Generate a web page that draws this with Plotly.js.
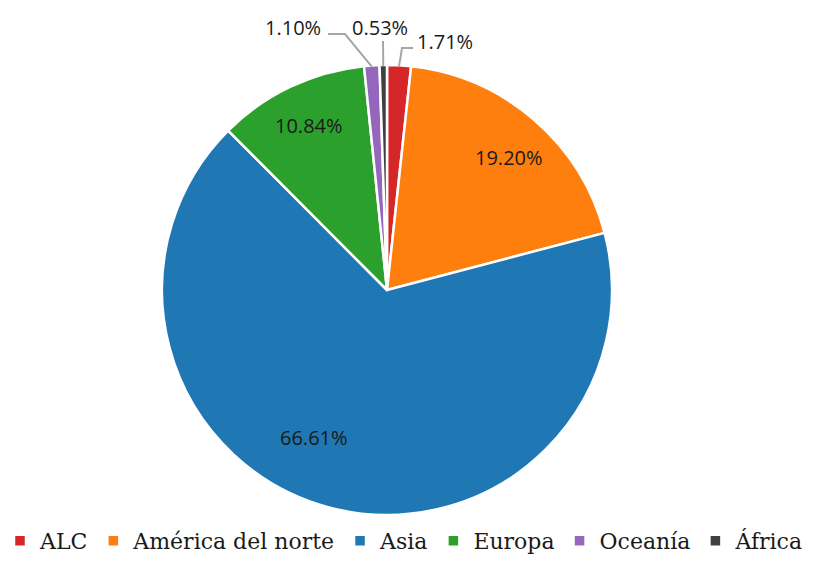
<!DOCTYPE html>
<html><head><meta charset="utf-8">
<script src="https://cdn.plot.ly/plotly-3.0.1.min.js"></script>
<style>html,body{margin:0;padding:0;background:#fff}</style></head>
<body>
<div id="chart" style="width:815px;height:562px"></div>
<script>
// ---- data ----
const regions = ['ALC', 'América del norte', 'Asia', 'Europa', 'Oceanía', 'África'];
const shares = [1.71, 19.20, 66.61, 10.84, 1.10, 0.53];
const shareLabels = ['1.71%', '19.20%', '66.61%', '10.84%', '1.10%', '0.53%'];
const colors = ['#d62728', '#ff7f0e', '#1f77b4', '#2ca02c', '#9467bd', '#404040'];

// ---- layout geometry (pixels) ----
const W = 815, H = 562, CX = 387, CY = 290, R = 225;
const px = x => x / W, py = y => 1 - y / H;
const insideCfg = {1: {r: 0.8, shift: 2}, 2: {r: 0.73, shift: 11}, 3: {r: 0.81, shift: 0}};
const outsideCfg = {
  0: {lx: 415, ly: 42, xanchor: 'left', path: [[402, 48], [413, 48]]},
  4: {lx: 293, ly: 27, xanchor: 'center', path: [[345, 34], [328, 34]]},
  5: {lx: 380, ly: 27, xanchor: 'center', path: [[383, 41]]}
};

const total = shares.reduce((a, b) => a + b, 0);
let cum = 0;
const annotations = [], shapes = [];
const labelFont = {family: 'Open Sans, Noto Sans, sans-serif', size: 20, color: '#1a1a1a'};
shares.forEach((v, i) => {
  const mid = (cum + v / 2) / total * 360;
  cum += v;
  if (insideCfg[i]) {
    const c = insideCfg[i];
    const th = (mid + c.shift) * Math.PI / 180;
    const x = CX + c.r * R * Math.sin(th), y = CY - c.r * R * Math.cos(th);
    annotations.push({x: px(x), y: py(y), xref: 'paper', yref: 'paper', text: shareLabels[i],
      showarrow: false, font: labelFont, xanchor: 'center', yanchor: 'middle'});
  } else if (outsideCfg[i]) {
    const c = outsideCfg[i];
    const th = mid * Math.PI / 180;
    const ex = CX + (R - 1) * Math.sin(th), ey = CY - (R - 1) * Math.cos(th);
    let d = 'M' + px(ex) + ',' + py(ey);
    c.path.forEach(p => { d += ' L' + px(p[0]) + ',' + py(p[1]); });
    shapes.push({type: 'path', xref: 'paper', yref: 'paper', path: d,
      line: {color: '#a6a6a6', width: 2}});
    annotations.push({x: px(c.lx), y: py(c.ly), xref: 'paper', yref: 'paper', text: shareLabels[i],
      showarrow: false, font: labelFont, xanchor: c.xanchor, yanchor: 'middle'});
  }
});

const trace = {
  type: 'pie', labels: regions, values: shares, sort: false, direction: 'clockwise', rotation: 0,
  marker: {colors: colors, line: {color: '#ffffff', width: 2.5}},
  textinfo: 'none', hoverinfo: 'none',
  domain: {x: [px(CX - R), px(CX + R)], y: [py(CY + R), py(CY - R)]}
};

const layout = {
  width: W, height: H, margin: {l: 0, r: 0, t: 0, b: 0},
  paper_bgcolor: '#fff', plot_bgcolor: '#fff',
  showlegend: true,
  legend: {orientation: 'h', x: 0, y: 0, xanchor: 'left', yanchor: 'bottom',
    font: {family: 'DejaVu Serif, serif', size: 22, color: '#1a1a1a'}, traceorder: 'normal',
    itemwidth: 30},
  annotations: annotations, shapes: shapes
};
Plotly.newPlot('chart', [trace], layout, {displayModeBar: false, staticPlot: true});
</script>
</body></html>
